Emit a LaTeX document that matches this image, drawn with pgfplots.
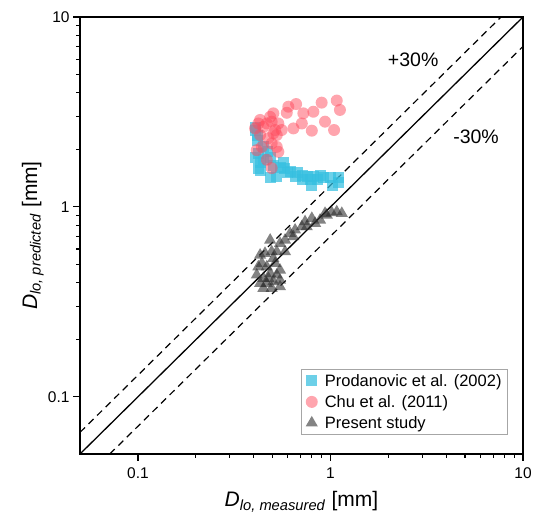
\documentclass[border=0pt]{standalone}
\usepackage{fontspec}
\setmainfont{Liberation Sans}
\usepackage{pgfplots}
\pgfplotsset{compat=1.18}
\definecolor{sqcol}{HTML}{35BFE0}
\definecolor{circcol}{HTML}{FF4C5E}
\definecolor{tricol}{HTML}{2A2A2A}

\begin{document}
\begin{tikzpicture}
\useasboundingbox (-80pt,-64pt) rectangle (453pt,454pt);
\begin{axis}[
  scale only axis, width=443pt, height=437pt,
  xmode=log, ymode=log,
  xmin=0.05, xmax=10, ymin=0.05, ymax=10,
  xtick={0.1,1,10}, ytick={0.1,1,10},
  xticklabels={0.1,1,10}, yticklabels={0.1,1,10},
  tick align=outside, xtick pos=bottom, ytick pos=left,
  major tick length=7pt, minor tick length=4pt,
  axis line style={line width=1.3pt},
  every tick/.style={black, line width=1.1pt},
  tick label style={font=\fontsize{15.5}{18}\selectfont},
  xticklabel style={yshift=-3pt},
  xlabel={\textit{D}\textsubscript{\textit{lo, measured}} [mm]},
  ylabel={\textit{D}\textsubscript{\textit{lo, predicted}} [mm]},
  every axis x label/.style={at={(axis description cs:0.5,-0.121)}, anchor=base,
    font=\fontsize{21}{24}\selectfont},
  every axis y label/.style={at={(axis description cs:-0.097,0.5)}, anchor=base,
    rotate=90, font=\fontsize{21}{24}\selectfont},
  legend style={at={(0.966,0.0435)}, anchor=south east, draw=gray!70, line width=0.8pt,
                font=\fontsize{16.5}{19}\selectfont, row sep=3.5pt,
                inner xsep=4pt, inner ysep=3pt,
                /tikz/every odd column/.append style={column sep=5pt}},
  legend cell align=left,
  clip=true,
]
\addplot[black, line width=1.3pt, forget plot] coordinates {(0.05,0.05)(10,10)};
\addplot[black, line width=1.2pt, dash pattern=on 7pt off 5pt, forget plot]
  coordinates {(0.05,0.065)(7.69,10)};
\addplot[black, line width=1.2pt, dash pattern=on 7pt off 5pt, forget plot]
  coordinates {(0.0714,0.05)(10,7)};

\addplot[only marks, mark=square*, mark size=5.5pt,
  mark options={draw opacity=0, fill=sqcol, fill opacity=0.72}] coordinates {
  (0.406,2.54)(0.417,2.25)(0.421,1.92)(0.431,1.72)(0.421,1.60)(0.448,1.77)
  (0.486,1.83)(0.505,1.66)(0.548,1.62)(0.58,1.60)(0.617,1.53)(0.671,1.51)
  (0.712,1.47)(0.757,1.44)(0.813,1.44)(0.883,1.47)(0.916,1.42)(0.995,1.42)
  (1.095,1.42)(0.486,1.42)(0.527,1.44)(0.595,1.51)(0.655,1.44)(0.712,1.39)
  (0.784,1.39)(0.853,1.39)(0.448,2.07)(0.469,1.95)(0.406,1.81)(0.431,1.56)
  (0.567,1.72)(0.80,1.30)(1.03,1.29)(0.406,2.63)(0.417,2.39)(1.10,1.35)};
\addlegendentry{Prodanovic et al. (2002)}

\addplot[only marks, mark=*, mark size=6pt,
  mark options={draw opacity=0, fill=circcol, fill opacity=0.5}] coordinates {
  (1.078,3.63)(1.12,3.24)(0.90,3.54)(0.815,3.17)(0.723,3.11)(0.663,3.48)
  (0.604,3.37)(0.593,3.13)(0.505,3.11)(0.486,2.98)(0.431,2.87)(0.422,2.75)
  (0.448,2.64)(0.495,2.81)(0.536,2.75)(0.558,2.54)(0.642,2.59)(0.71,2.75)
  (0.80,2.52)(0.937,2.81)(1.044,2.54)(0.505,2.44)(0.476,2.30)(0.526,2.39)
  (0.495,2.16)(0.526,2.07)(0.414,1.99)(0.44,2.07)(0.536,1.95)(0.467,1.77)
  (0.495,1.60)(0.431,2.39)(0.406,2.59)(0.467,2.75)(0.516,2.54)};
\addlegendentry{Chu et al. (2011)}

\addplot[only marks, mark=triangle*, mark size=7pt,
  mark options={draw opacity=0, fill=tricol, fill opacity=0.58}] coordinates {
  (1.078,0.943)(1.145,0.925)(1.016,0.932)(0.937,0.925)(0.883,0.853)(0.80,0.871)
  (0.738,0.836)(0.71,0.787)(0.655,0.756)(0.617,0.726)(0.581,0.669)(0.547,0.643)
  (0.486,0.669)(0.495,0.581)(0.526,0.581)(0.457,0.570)(0.431,0.558)(0.44,0.505)
  (0.422,0.484)(0.467,0.484)(0.516,0.505)(0.547,0.465)(0.486,0.447)(0.448,0.421)
  (0.431,0.396)(0.467,0.396)(0.505,0.404)(0.547,0.412)(0.448,0.373)(0.495,0.373)
  (0.547,0.380)(0.414,0.438)(0.581,0.581)(0.642,0.697)(0.832,0.82)(0.753,0.787)
  (0.957,0.906)(0.505,0.536)(0.476,0.421)(0.526,0.438)};
\addlegendentry{Present study}

\node[font=\fontsize{19.5}{22}\selectfont] at (rel axis cs:0.752,0.902) {+30\%};
\node[font=\fontsize{19.5}{22}\selectfont] at (rel axis cs:0.894,0.725) {-30\%};
\end{axis}
\end{tikzpicture}
\end{document}
